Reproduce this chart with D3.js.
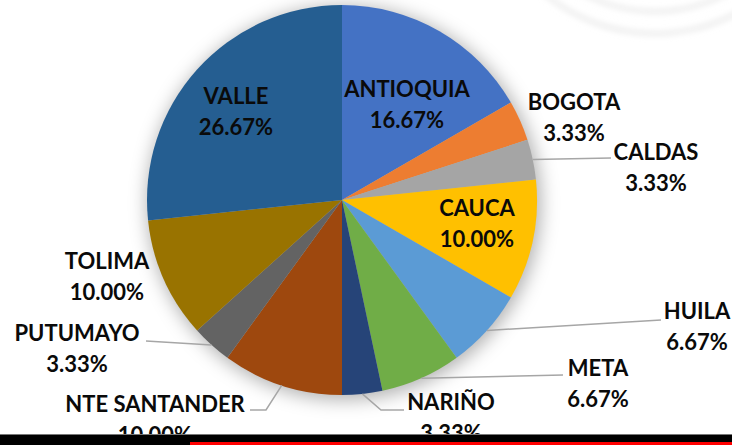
<!DOCTYPE html>
<html>
<head>
<meta charset="utf-8">
<title>pie departamentos</title>
<script src="https://cdn.jsdelivr.net/npm/d3@7"></script>
<style>
  body { margin:0; background:#fff; }
  .lbl { font-family: Lato, "Open Sans", sans-serif; font-weight:700; font-size:22px; fill:#0a0a0a; }
</style>
</head>
<body>
<script>
var width = 732, height = 445;

// datos
var departamentos = ["ANTIOQUIA","BOGOTA","CALDAS","CAUCA","HUILA","META","NARIÑO","NTE SANTANDER","PUTUMAYO","TOLIMA","VALLE"];
var porcentajes   = [16.67, 3.33, 3.33, 10.00, 6.67, 6.67, 3.33, 10.00, 3.33, 10.00, 26.67];
var colores       = ["#4472c4","#ed7d31","#a5a5a5","#ffc000","#5b9bd5","#70ad47","#264478","#9e480e","#636363","#997300","#255e91"];

// posicion de las etiquetas (centro de la primera linea) y codo de la guia
var etiquetas = {
  "ANTIOQUIA":     {x:407, y:89},
  "BOGOTA":        {x:574, y:102},
  "CALDAS":        {x:656, y:152, guia:[[611,158]]},
  "CAUCA":         {x:477, y:208},
  "HUILA":         {x:697, y:311, guia:[[661,320]]},
  "META":          {x:598, y:368, guia:[[563,375]]},
  "NARIÑO":        {x:451, y:402, guia:[[381,410],[404,410]]},
  "NTE SANTANDER": {x:155, y:404, guia:[[266,410],[250,410]]},
  "PUTUMAYO":      {x:77,  y:333, guia:[[146,341]]},
  "TOLIMA":        {x:107, y:261},
  "VALLE":         {x:236, y:96}
};

var cx = 342, cy = 200, radio = 195;

var svg = d3.select("body").append("svg")
    .attr("width", width)
    .attr("height", height);

var defs = svg.append("defs");
var sombra = defs.append("filter").attr("id","sombra")
    .attr("x","-20%").attr("y","-20%").attr("width","140%").attr("height","140%");
sombra.append("feGaussianBlur").attr("stdDeviation", 9);
defs.append("filter").attr("id","borroso")
    .append("feGaussianBlur").attr("stdDeviation", 3);

// marca de agua arriba a la derecha
var marca = svg.append("g").attr("filter","url(#borroso)");
[150, 172].forEach(function(r){
  marca.append("path")
    .attr("d", d3.arc().innerRadius(r).outerRadius(r+3)
      .startAngle(Math.PI*0.62).endAngle(Math.PI*1.25)())
    .attr("transform","translate(655,-140)")
    .attr("fill","#e2e2e2");
});

var pie = d3.pie().sort(null).value(function(d){ return d; });
var arcos = pie(porcentajes);
var arco = d3.arc().innerRadius(0).outerRadius(radio);
var borde = d3.arc().innerRadius(radio).outerRadius(radio);

var g = svg.append("g").attr("transform","translate(" + cx + "," + cy + ")");

g.append("circle").attr("r", radio + 2).attr("cx", 2).attr("cy", 3)
  .attr("fill","rgba(0,0,0,0.3)")
  .attr("filter","url(#sombra)");

g.selectAll(".slice")
  .data(arcos)
  .enter()
  .append("path")
  .attr("class","slice")
  .attr("d", arco)
  .attr("fill", function(d,i){ return colores[i]; });

// lineas guia
var linea = d3.line();
arcos.forEach(function(d,i){
  var e = etiquetas[departamentos[i]];
  if (!e.guia) return;
  var p0 = borde.centroid(d);
  var pts = [[cx + p0[0], cy + p0[1]]].concat(e.guia);
  svg.append("path")
    .attr("d", linea(pts))
    .attr("fill","none")
    .attr("stroke","#a6a6a6")
    .attr("stroke-width",1.5);
});

// etiquetas
departamentos.forEach(function(nombre,i){
  var e = etiquetas[nombre];
  var t = svg.append("text")
    .attr("class","lbl")
    .attr("text-anchor","middle")
    .attr("x", e.x)
    .attr("y", e.y + 8);
  t.append("tspan").attr("x", e.x).text(nombre);
  t.append("tspan").attr("x", e.x).attr("dy", 31).text(d3.format(".2f")(porcentajes[i]) + "%");
});

// barra inferior
svg.append("rect").attr("x",0).attr("y",434).attr("width",width).attr("height",1.5).attr("fill","#777");
svg.append("rect").attr("x",0).attr("y",435).attr("width",width).attr("height",10).attr("fill","#000");
svg.append("rect").attr("x",190).attr("y",442).attr("width",width-190).attr("height",3).attr("fill","#ff0000");
</script>
</body>
</html>
